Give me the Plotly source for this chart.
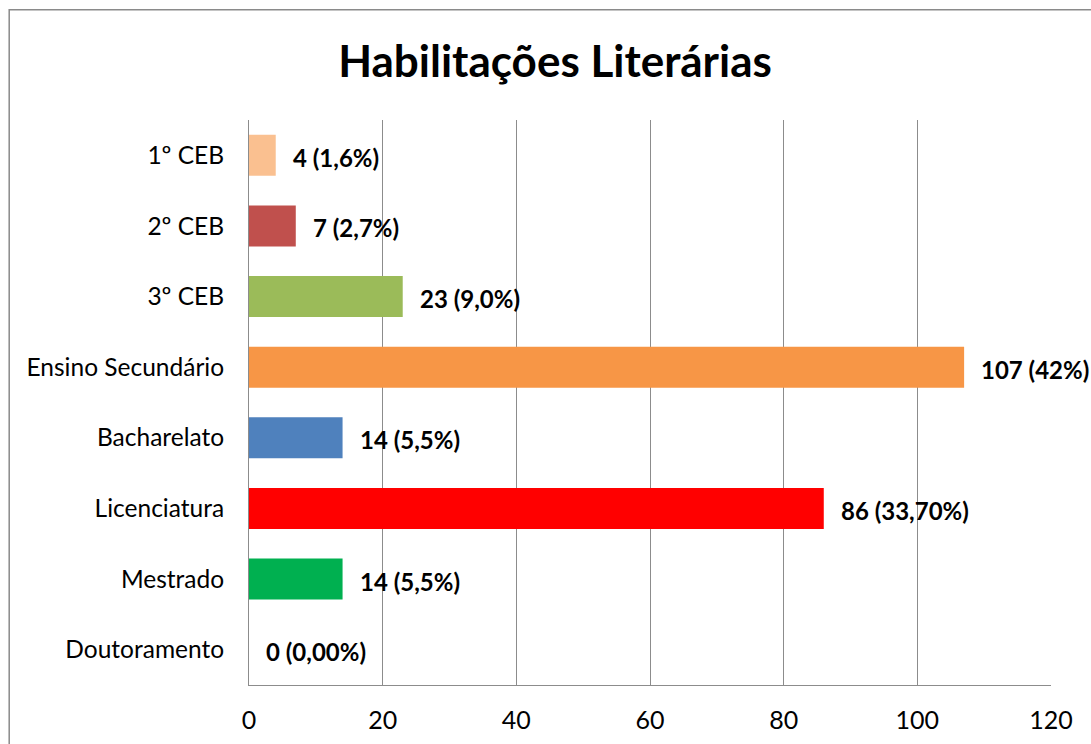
import plotly.graph_objects as go

# Education levels (top to bottom) with counts and their printed share
categories = ["1º CEB", "2º CEB", "3º CEB", "Ensino Secundário",
              "Bacharelato", "Licenciatura", "Mestrado", "Doutoramento"]
counts = [4, 7, 23, 107, 14, 86, 14, 0]
shares = ["1,6%", "2,7%", "9,0%", "42%", "5,5%", "33,70%", "5,5%", "0,00%"]
colors = ["#FAC090", "#C0504D", "#9BBB59", "#F79646",
          "#4F81BD", "#FF0000", "#00B050", "#7F7F7F"]
x_ticks = [0, 20, 40, 60, 80, 100, 120]

FONT = "Lato"
GRID = "#8C8C8C"

fig = go.Figure()
fig.add_trace(go.Bar(
    y=categories,
    x=counts,
    orientation="h",
    marker=dict(color=colors, line=dict(width=0)),
    hoverinfo="skip",
))

# Value labels placed just past the end of each bar
for cat, val, pct in zip(categories, counts, shares):
    fig.add_annotation(
        x=val, y=cat, xref="x", yref="y",
        text=f"<b>{val} ({pct})</b>",
        showarrow=False, xanchor="left", yanchor="middle",
        xshift=15, yshift=-2,
        font=dict(family=FONT, size=24, color="#000000"),
    )

# Outer chart frame
fig.add_shape(
    type="rect", xref="paper", yref="paper",
    x0=-0.299, x1=1.2, y0=-0.3, y1=1.195,
    line=dict(color="#8A8A8A", width=1.5), fillcolor="rgba(0,0,0,0)",
    layer="below",
)

fig.update_layout(
    width=1091, height=744,
    margin=dict(l=249, r=40, t=120, b=59),
    paper_bgcolor="white", plot_bgcolor="white",
    showlegend=False,
    bargap=0.42,
    title=dict(
        text="<b>Habilitações Literárias</b>",
        x=555 / 1091, xref="container", xanchor="center",
        y=1 - 62 / 744, yref="container", yanchor="middle",
        font=dict(family=FONT, size=44, color="#000000"),
    ),
    font=dict(family=FONT, color="#000000"),
)

fig.update_xaxes(
    range=[0, 120],
    tickvals=x_ticks,
    showgrid=True, gridcolor=GRID, gridwidth=1,
    zeroline=False,
    showline=True, linecolor=GRID, linewidth=1,
    mirror=False, automargin=False,
    ticks="", ticklabelstandoff=13,
    tickfont=dict(family=FONT, size=25, color="#000000"),
)

# First category sits at the top of the chart
fig.update_yaxes(
    categoryorder="array", categoryarray=categories[::-1],
    showgrid=False, automargin=False,
    showline=True, linecolor=GRID, linewidth=1,
    ticks="", ticklabelstandoff=19,
    tickfont=dict(family=FONT, size=24.5, color="#000000"),
)

fig.write_html("out.html")
